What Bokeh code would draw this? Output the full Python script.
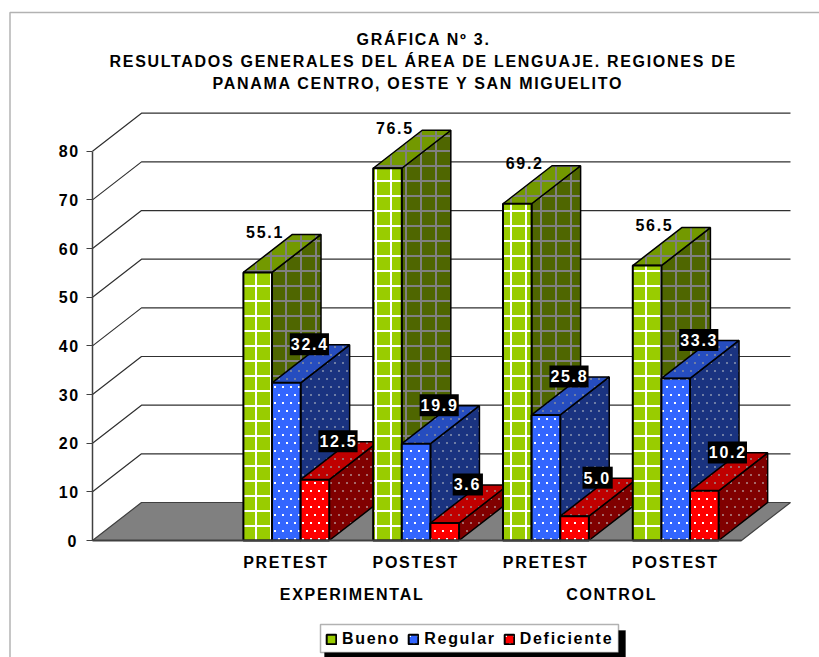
import base64, struct, zlib
from bokeh.core.properties import value
from bokeh.plotting import figure
from bokeh.models import Label, Legend, LegendItem, BoxAnnotation, FixedTicker, ImageURLTexture
from bokeh.embed import file_html
from bokeh.resources import INLINE

# ---- data ----
title_lines = ["GRÁFICA Nº 3.",
               "RESULTADOS GENERALES DEL ÁREA DE LENGUAJE. REGIONES DE",
               "PANAMA CENTRO, OESTE Y SAN MIGUELITO"]
categories = ["PRETEST", "POSTEST", "PRETEST", "POSTEST"]
groups = ["EXPERIMENTAL", "CONTROL"]
series_names = ["Bueno", "Regular", "Deficiente"]
bueno = [55.1, 76.5, 69.2, 56.5]
regular = [32.4, 19.9, 25.8, 33.3]
deficiente = [12.5, 3.6, 5.0, 10.2]
y_ticks = [0, 10, 20, 30, 40, 50, 60, 70, 80]

# ---- style ----
FONT = "Liberation Sans"
TRACK = 1.7
front = ["#99CC00", "#3366FF", "#FF0000"]
side = ["#4F6600", "#1A3380", "#800000"]
top = ["#739900", "#264DBF", "#BF0000"]


def png_tile(size, rgb, cells):
    rows = []
    for y in range(size):
        row = bytearray([0])
        for x in range(size):
            row += bytes(rgb) + bytes([255 if (x, y) in cells else 0])
        rows.append(bytes(row))

    def chunk(tag, data):
        return struct.pack(">I", len(data)) + tag + data + struct.pack(">I", zlib.crc32(tag + data) & 0xffffffff)
    raw = (b"\x89PNG\r\n\x1a\n" + chunk(b"IHDR", struct.pack(">IIBBBBB", size, size, 8, 6, 0, 0, 0))
           + chunk(b"IDAT", zlib.compress(b"".join(rows))) + chunk(b"IEND", b""))
    return "data:image/png;base64," + base64.b64encode(raw).decode()


def grid_cells(size, w):
    return {(x, y) for x in range(size) for y in range(size) if x < w or y < w}


def dot_cells():
    return {(x + i, y + j) for x, y in ((2, 2), (10, 2), (6, 10), (14, 10)) for i in (0, 1) for j in (0, 1)}


extra = {
    "grid_w": ImageURLTexture(url=png_tile(15, (255, 255, 255), grid_cells(15, 2))),
    "grid_g": ImageURLTexture(url=png_tile(15, (128, 128, 128), grid_cells(15, 2))),
    "dots_w": ImageURLTexture(url=png_tile(16, (255, 255, 255), dot_cells())),
    "dots_b": ImageURLTexture(url=png_tile(16, (110, 125, 165), dot_cells())),
    "dots_r": ImageURLTexture(url=png_tile(16, (165, 105, 105), dot_cells())),
}
front_pat = ["grid_w", "dots_w", "dots_w"]
back_pat = ["grid_g", "dots_b", "dots_r"]

# geometry in data units
AX_X = 92
UNIT_X = 129.8
UNIT_Y = 4.866
BAR = 0.2205
GAP = 0.1625
DX = 0.3775
DY = 7.81
CW, CH = 819, 657
x_range = (-AX_X / UNIT_X, (CW - AX_X) / UNIT_X)
y_range = (-(CH - 540) / UNIT_Y, 540 / UNIT_Y)

p = figure(width=CW, height=CH, output_backend="svg", toolbar_location=None,
           x_range=x_range, y_range=y_range,
           min_border_left=0, min_border_right=0, min_border_top=0, min_border_bottom=0,
           outline_line_color=None, background_fill_color="white",
           styles={"letter-spacing": f"{TRACK}px"})
p.grid.visible = False

# chart border
p.add_layout(BoxAnnotation(left=9.5, right=900, top=12, bottom=900,
                           left_units="canvas", right_units="canvas", top_units="canvas", bottom_units="canvas",
                           fill_color=None, line_color="black", line_width=1.5, level="underlay"))

# axes
yax = p.yaxis[0]
yax.fixed_location = 0
yax.ticker = FixedTicker(ticks=y_ticks)
yax.bounds = (0, 80)
yax.major_tick_in = 0
yax.major_tick_out = 6
yax.minor_tick_out = 0
yax.minor_tick_in = 0
yax.axis_line_color = "#404040"
yax.axis_line_width = 1.5
yax.major_tick_line_color = "#404040"
yax.major_label_text_font = FONT
yax.major_label_text_font_style = "bold"
yax.major_label_text_font_size = "16px"
yax.major_label_text_color = "black"
yax.major_label_standoff = 10

label_ticks = [1.445, 2.445, 3.445, 4.445]
xax = p.xaxis[0]
xax.fixed_location = 0
xax.ticker = FixedTicker(ticks=label_ticks)
xax.major_label_overrides = dict(zip(label_ticks, categories))
xax.bounds = (0, 5)
xax.major_tick_in = 0
xax.major_tick_out = 0
xax.minor_tick_in = 0
xax.minor_tick_out = 0
xax.axis_line_color = "#404040"
xax.axis_line_width = 2
xax.major_label_text_font = FONT
xax.major_label_text_font_style = "bold"
xax.major_label_text_font_size = "16px"
xax.major_label_text_color = "black"
xax.major_label_standoff = 13

# floor and walls
p.patch([0, DX, 5 + DX, 5], [0, DY, DY, 0], fill_color="#808080", line_color="#404040", line_width=1.2)
wall_v = y_ticks[1:]
p.multi_line([[0, DX, 5 + DX] for _ in wall_v], [[v, v + DY, v + DY] for v in wall_v],
             line_color="#303030", line_width=1.2)

# bars
all_series = [bueno, regular, deficiente]
legend_renderers = {}
for c in range(4):
    for s in range(3):
        v = all_series[s][c]
        x0 = 1 + c + GAP + s * BAR
        x1 = x0 + BAR
        p.patch([x1, x1 + DX, x1 + DX, x1], [0, DY, v + DY, v], fill_color=side[s], line_color="black",
                line_width=1.5, hatch_pattern=back_pat[s], hatch_extra=extra)
        p.patch([x0, x0 + DX, x1 + DX, x1], [v, v + DY, v + DY, v], fill_color=top[s], line_color="black",
                line_width=1.5, hatch_pattern=back_pat[s], hatch_extra=extra)
        r = p.quad(left=x0, right=x1, bottom=0, top=v, fill_color=front[s], line_color="black",
                   line_width=2, hatch_pattern=value(front_pat[s]), hatch_extra=extra)
        legend_renderers[s] = r

# value labels
for c in range(4):
    p.add_layout(Label(x=1 + c + GAP + BAR * 0.5 + 0.05, y=bueno[c] + DY + 0.5, x_offset=-2.5,
                       text=f"{bueno[c]:.1f}", text_align="center", text_baseline="middle",
                       text_font=FONT, text_font_style="bold", text_font_size="16px", text_color="black"))
for s, vals in ((1, regular), (2, deficiente)):
    for c in range(4):
        p.add_layout(Label(x=1 + c + GAP + s * BAR + BAR * 0.5 + 0.17, y=vals[c] + DY + 0.1, x_offset=1,
                           text=f"{vals[c]:.1f}", text_align="center", text_baseline="middle",
                           text_font=FONT, text_font_style="bold", text_font_size="16px", text_color="white",
                           background_fill_color="black",
                           padding=dict(left=1, right=7, top=5, bottom=5)))

# group labels
for i, g in enumerate(groups):
    p.add_layout(Label(x=2 + 2 * i, y=-11.1, x_offset=-len(g) * TRACK / 2, text=g,
                       text_align="center", text_baseline="middle",
                       text_font=FONT, text_font_style="bold", text_font_size="16px", text_color="black"))

# title
for line, lx, ly in zip(title_lines, (356, 109, 212), (39, 61, 83)):
    p.add_layout(Label(x=lx, y=ly, x_units="canvas", y_units="canvas", text=line,
                       text_align="left", text_baseline="middle", text_font=FONT, text_font_style="bold",
                       text_font_size="16px", text_color="black"))

# legend with shadow
p.add_layout(BoxAnnotation(left=324, right=625, top=630, bottom=657,
                           left_units="canvas", right_units="canvas", top_units="canvas", bottom_units="canvas",
                           fill_color="black", fill_alpha=1, line_color="black", level="annotation"))
p.add_layout(BoxAnnotation(left=320, right=618, top=624, bottom=652,
                           left_units="canvas", right_units="canvas", top_units="canvas", bottom_units="canvas",
                           fill_color="white", fill_alpha=1, line_color="black", line_width=1.5, level="annotation"))
leg = Legend(items=[LegendItem(label=n, renderers=[legend_renderers[i]]) for i, n in enumerate(series_names)],
             orientation="horizontal", location=(325, 9), border_line_color=None, background_fill_alpha=0,
             label_text_font=FONT, label_text_font_style="bold", label_text_font_size="16px",
             label_text_color="black", glyph_width=12, glyph_height=12, label_standoff=5, spacing=7,
             padding=6, margin=0)
p.add_layout(leg, "center")

open("out.html", "w").write(file_html(p, INLINE))
